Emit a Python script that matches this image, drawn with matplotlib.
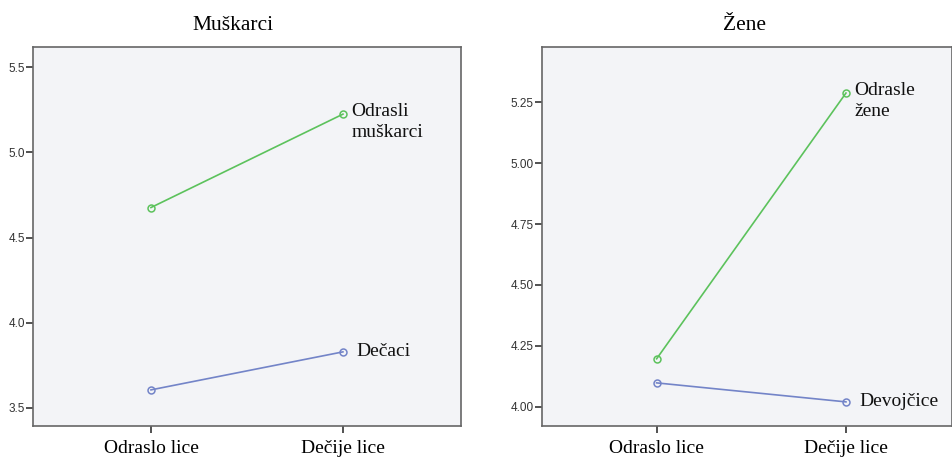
import matplotlib.pyplot as plt

categories = ['Odraslo lice', 'Dečije lice']

men_adult = [4.676, 5.224]
men_child = [3.606, 3.829]
men_labels = ['Odrasli\nmuškarci', 'Dečaci']
men_ticks = [3.5, 4.0, 4.5, 5.0, 5.5]

women_adult = [4.197, 5.288]
women_child = [4.098, 4.020]
women_labels = ['Odrasle\nžene', 'Devojčice']
women_ticks = [4.00, 4.25, 4.50, 4.75, 5.00, 5.25]

GREEN = '#5cc25c'
BLUE = '#7384c8'
BG = '#f3f4f7'
SERIF = 'Liberation Serif'
SANS = 'Liberation Sans'

W, H = 953, 459
fig = plt.figure(figsize=(W / 100, H / 100), dpi=100)


def panel(rect, title, title_x, adult, child, labels, ticks, ylim, xlim, fmt):
    l, t, r, b = rect
    ax = fig.add_axes([l / W, 1 - b / H, (r - l) / W, (b - t) / H])
    ax.set_facecolor(BG)
    x = list(range(len(categories)))
    for vals, c, lab in [(adult, GREEN, labels[0]), (child, BLUE, labels[1])]:
        ax.plot(x, vals, color=c, lw=1.2, marker='o', ms=5, mfc='none',
                mec=c, mew=1.1)
        multi = '\n' in lab
        ax.annotate(lab, (x[-1], vals[-1]),
                    xytext=(6, 8) if multi else (10, 0),
                    textcoords='offset points',
                    va='top' if multi else 'center',
                    ha='left', fontsize=14, family=SERIF, color='#111111',
                    linespacing=1.3)
    ax.set_xlim(*xlim)
    ax.set_ylim(*ylim)
    ax.set_xticks(x)
    ax.set_xticklabels(categories, fontsize=14, family=SERIF)
    ax.set_yticks(ticks)
    ax.set_yticklabels([fmt.format(v) for v in ticks], fontsize=8.5,
                       family=SANS, color='#333333')
    ax.tick_params(axis='y', length=5, width=1.2, color='#333333', pad=1)
    ax.tick_params(axis='x', length=5, width=1.2, color='#333333', pad=5)
    for s in ax.spines.values():
        s.set_color('#666666')
        s.set_linewidth(1.2)
    ax.set_title(title, fontsize=15.5, family=SERIF, pad=12, x=title_x)
    return ax


panel((33.5, 47, 461, 426), 'Muškarci', 0.467, men_adult, men_child,
      men_labels, men_ticks, (3.394, 5.618), (-0.612, 1.615), '{:.1f}')
panel((541.7, 47, 952, 426), 'Žene', 0.495, women_adult, women_child,
      women_labels, women_ticks, (3.921, 5.477), (-0.607, 1.56), '{:.2f}')

fig.savefig('out.png', dpi=100)
